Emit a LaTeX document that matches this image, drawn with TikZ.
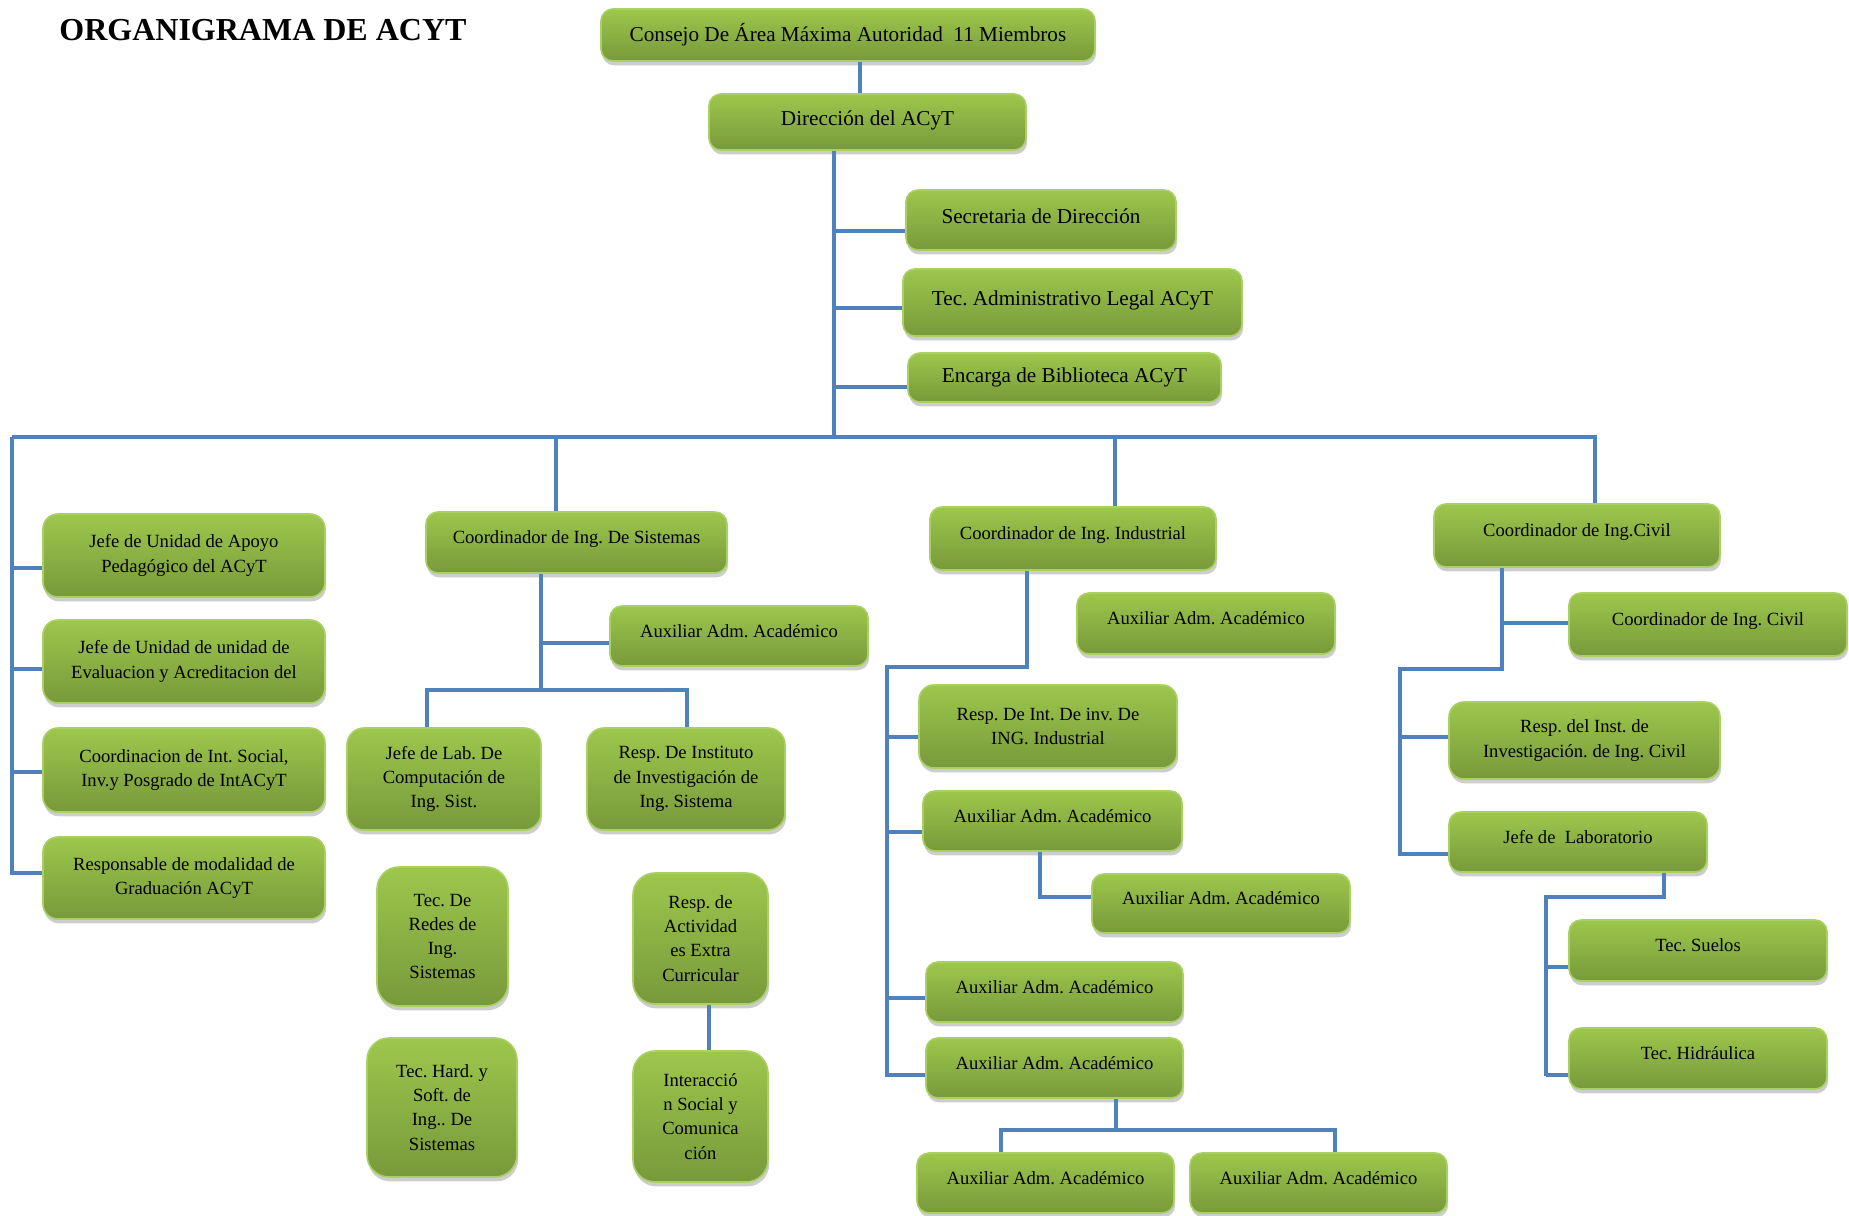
\documentclass[tikz,border=0pt]{standalone}
\usepackage{fontspec}
\setmainfont{Liberation Serif}
\usetikzlibrary{shadows,calc}
\definecolor{gtop}{HTML}{9DC74C}
\definecolor{gbot}{HTML}{78993B}
\definecolor{gedge}{HTML}{A8D062}
\definecolor{lblue}{HTML}{4F81BD}
\tikzset{
  orgbox/.style={draw=gedge, line width=0.8pt, rounded corners=6pt,
    top color=gtop, bottom color=gbot, align=center, inner sep=0pt, text=black,
    drop shadow={shadow xshift=0.6pt, shadow yshift=-2.2pt, opacity=0.28, fill=black!70},
    font=\fontsize{9.3}{12.1}\selectfont},
  one/.style={text height=7pt, text depth=5.6pt},
  bigfont/.style={font=\fontsize{10.6}{13}\selectfont},
  bigtxt/.style={bigfont, text height=8pt, text depth=5pt},
  tallbox/.style={rounded corners=11pt},
  midbox/.style={rounded corners=8.5pt},
  link/.style={draw=lblue, line width=2.4pt},
}
\newcommand\orgbx[7][]{\node[orgbox,#1, minimum width={(#5-#3)*0.5pt}, minimum height={(#6-#4)*0.5pt}] (#2) at ({(#3+#5)/2},{(#4+#6)/2}) {#7};}
\begin{document}
\frenchspacing
\begin{tikzpicture}[x=0.5pt,y=-0.5pt]
\useasboundingbox (0,0) rectangle (1849,1216);
\node[anchor=west, inner sep=0pt, font=\bfseries\fontsize{16}{18}\selectfont] (title) at (59,30) {ORGANIGRAMA DE ACYT};

% top level
\orgbx[bigfont]{con}{601}{9}{1095}{61}{Consejo De Área Máxima Autoridad\ \ 11 Miembros}
\orgbx[bigtxt]{dir}{709}{94}{1026}{150}{Dirección del ACyT}
\orgbx[bigtxt]{sec}{906}{190}{1176}{250}{Secretaria de Dirección}
\orgbx[bigtxt]{tec}{903}{269}{1242}{336}{Tec. Administrativo Legal ACyT}
\orgbx[bigfont]{bib}{908}{353}{1221}{402}{Encarga de Biblioteca ACyT}

% left column
\orgbx[rounded corners=7.5pt]{la}{43}{514}{325}{597}{Jefe de Unidad de Apoyo\\Pedagógico del ACyT}
\orgbx[rounded corners=7.5pt]{lb}{43}{620}{325}{703}{Jefe de Unidad de unidad de\\Evaluacion y Acreditacion del}
\orgbx[rounded corners=7.5pt]{lc}{43}{728}{325}{812}{Coordinacion de Int. Social,\\Inv.y Posgrado de IntACyT}
\orgbx[rounded corners=7.5pt]{ld}{43}{837}{325}{919}{Responsable de modalidad de\\Graduación ACyT}

% sistemas
\orgbx[one]{sis}{426}{512}{727}{573}{Coordinador de Ing. De Sistemas}
\orgbx[one]{sisaux}{610}{606}{868}{666}{Auxiliar Adm. Académico}
\orgbx[midbox]{sislab}{347}{728}{541}{830}{Jefe de Lab. De\\Computación de\\Ing. Sist.}
\orgbx[midbox]{sisinv}{587}{728}{785}{830}{Resp. De Instituto\\de Investigación de\\Ing. Sistema}
\orgbx[tallbox]{sisred}{377}{867}{508}{1006}{Tec. De\\Redes de\\Ing.\\Sistemas}
\orgbx[tallbox]{sishard}{367}{1038}{517}{1177}{Tec. Hard. y\\Soft. de\\Ing.. De\\Sistemas}
\orgbx[tallbox]{sisact}{633}{873}{768}{1004}{Resp. de\\Actividad\\es Extra\\Curricular}
\orgbx[tallbox]{sisint}{633}{1051}{768}{1182}{Interacció\\n Social y\\Comunica\\ción}

% industrial
\orgbx[one]{ind}{930}{507}{1216}{570}{Coordinador de Ing. Industrial}
\orgbx[one]{indaux0}{1077}{593}{1335}{654}{Auxiliar Adm. Académico}
\orgbx[rounded corners=7.5pt]{indres}{919}{685}{1177}{768}{Resp. De Int. De inv. De\\ING. Industrial}
\orgbx[one]{indaux1}{923}{791}{1182}{851}{Auxiliar Adm. Académico}
\orgbx[one]{indaux2}{1092}{874}{1350}{933}{Auxiliar Adm. Académico}
\orgbx[one]{indaux3}{926}{962}{1183}{1022}{Auxiliar Adm. Académico}
\orgbx[one]{indaux4}{926}{1038}{1183}{1098}{Auxiliar Adm. Académico}
\orgbx[one]{indaux5}{917}{1153}{1174}{1213}{Auxiliar Adm. Académico}
\orgbx[one]{indaux6}{1190}{1153}{1447}{1213}{Auxiliar Adm. Académico}

% civil
\orgbx[one]{civ}{1434}{504}{1720}{567}{Coordinador de Ing.Civil}
\orgbx[one]{civcoord}{1569}{593}{1847}{656}{Coordinador de Ing. Civil}
\orgbx[rounded corners=7.5pt]{civres}{1449}{702}{1720}{779}{Resp. del Inst. de\\Investigación. de Ing. Civil}
\orgbx[one]{civlab}{1449}{812}{1707}{872}{Jefe de\ \ Laboratorio}
\orgbx[one]{civsue}{1569}{920}{1827}{981}{Tec. Suelos}
\orgbx[one]{civhid}{1569}{1028}{1827}{1089}{Tec. Hidráulica}

% junction coordinates
\coordinate (trk) at (834,437);
\coordinate (busL) at (12,437);
\coordinate (busR) at (1597,437);
\coordinate (lcolB) at (12,875);
\coordinate (busS) at (556,437);
\coordinate (busI) at (1115,437);
\coordinate (busC) at (1595,437);
\coordinate (sisJ) at (541,690);

% top connectors
\draw[link] (con.south -| 860,0) -- (dir.north -| 860,0);
\draw[link] (dir.south -| trk) -- (trk);
\foreach \n/\y in {sec/231, tec/308, bib/387}
  \draw[link] (trk |- 0,\y) -- (\n.west |- 0,\y);
\draw[link] (busL) -- (busR);

% left column
\draw[link] (busL) -- (lcolB);
\foreach \n/\y in {la/568, lb/669, lc/772, ld/873}
  \draw[link] (busL |- 0,\y) -- (\n.west |- 0,\y);

% sistemas
\draw[link] (busS) -- (sis.north -| busS);
\draw[link] (sis.south -| sisJ) -- (sisJ);
\draw[link] (sisJ |- 0,643) -- (sisaux.west |- 0,643);
\draw[link] (sislab.north -| 427,0) -- (427,690) -- (687,690) -- (sisinv.north -| 687,0);
\draw[link] (sisact.south -| 709,0) -- (sisint.north -| 709,0);

% industrial
\draw[link] (busI) -- (ind.north -| busI);
\draw[link] (ind.south -| 1027,0) -- (1027,667) -- (887,667) -- (887,1075) -- (indaux4.west |- 0,1075);
\foreach \n/\y in {indres/737, indaux1/832, indaux3/998}
  \draw[link] (887,\y) -- (\n.west |- 0,\y);
\draw[link] (indaux1.south -| 1040,0) -- (1040,897) -- (indaux2.west |- 0,897);
\draw[link] (indaux4.south -| 1116,0) -- (1116,1131);
\draw[link] (indaux5.north -| 1001,0) -- (1001,1130) -- (1335,1130) -- (indaux6.north -| 1335,0);

% civil
\draw[link] (busC) -- (civ.north -| busC);
\draw[link] (civ.south -| 1502,0) -- (1502,669) -- (1400,669) -- (1400,856);
\draw[link] (1502,623) -- (civcoord.west |- 0,623);
\foreach \n/\y in {civres/737, civlab/854}
  \draw[link] (1400,\y) -- (\n.west |- 0,\y);
\draw[link] (civlab.south -| 1664,0) -- (1664,897) -- (1546,897) -- (1546,1076);
\foreach \n/\y in {civsue/967, civhid/1075}
  \draw[link] (1546,\y) -- (\n.west |- 0,\y);
\end{tikzpicture}
\end{document}
